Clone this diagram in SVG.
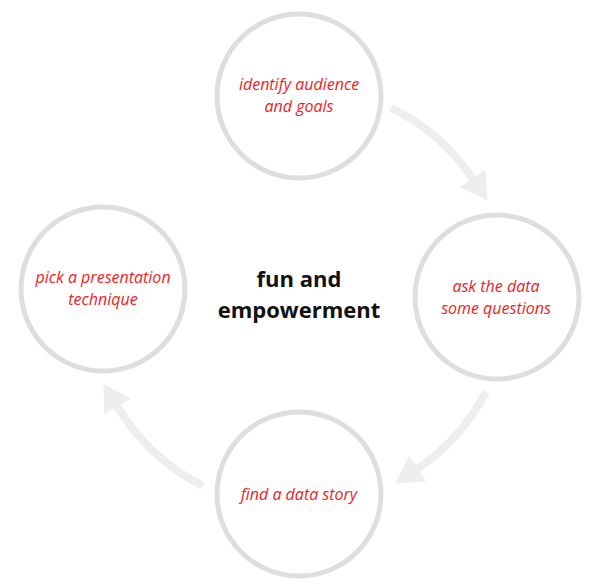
<svg xmlns="http://www.w3.org/2000/svg" width="600" height="586" viewBox="0 0 600 586">
  <style>
    .ring { fill: #ffffff; stroke: #dedede; stroke-width: 5; }
    .label { font-family: "Open Sans", "Liberation Sans", sans-serif; font-style: italic; font-size: 16px; fill: #f41a1a; text-anchor: middle; }
    .center { font-family: "Open Sans", "Liberation Sans", sans-serif; font-weight: bold; font-size: 22px; fill: #111111; text-anchor: middle; }
    .flow { fill: none; stroke: #eeeeee; stroke-width: 8; marker-end: url(#head); }
  </style>
  <defs>
    <marker id="head" markerUnits="userSpaceOnUse" viewBox="0 0 27 31" markerWidth="27" markerHeight="31" refX="1" refY="15.5" orient="auto">
      <path d="M0,0 L27,15.5 L0,31 z" fill="#eeeeee"/>
    </marker>
  </defs>
  <rect width="600" height="586" fill="#ffffff"/>
  <g id="connectors">
    <path class="flow" d="M391,108 A209,209 0 0 1 473,179"/>
    <path class="flow" d="M486,392 A209,209 0 0 1 417,469"/>
    <path class="flow" d="M203,486 A213,213 0 0 1 117,406"/>
  </g>
  <g id="node-identify">
    <circle class="ring" cx="299" cy="96" r="82"/>
    <text class="label" x="299" y="90">identify audience</text>
    <text class="label" x="299" y="112">and goals</text>
  </g>
  <g id="node-ask">
    <circle class="ring" cx="497" cy="297" r="82"/>
    <text class="label" x="496" y="292">ask the data</text>
    <text class="label" x="496" y="314">some questions</text>
  </g>
  <g id="node-story">
    <circle class="ring" cx="299" cy="494" r="82"/>
    <text class="label" x="299" y="500">find a data story</text>
  </g>
  <g id="node-pick">
    <circle class="ring" cx="103" cy="289" r="82"/>
    <text class="label" x="103" y="283">pick a presentation</text>
    <text class="label" x="103" y="305">technique</text>
  </g>
  <g id="node-center">
    <text class="center" x="299" y="287">fun and</text>
    <text class="center" x="299" y="318">empowerment</text>
  </g>
</svg>
